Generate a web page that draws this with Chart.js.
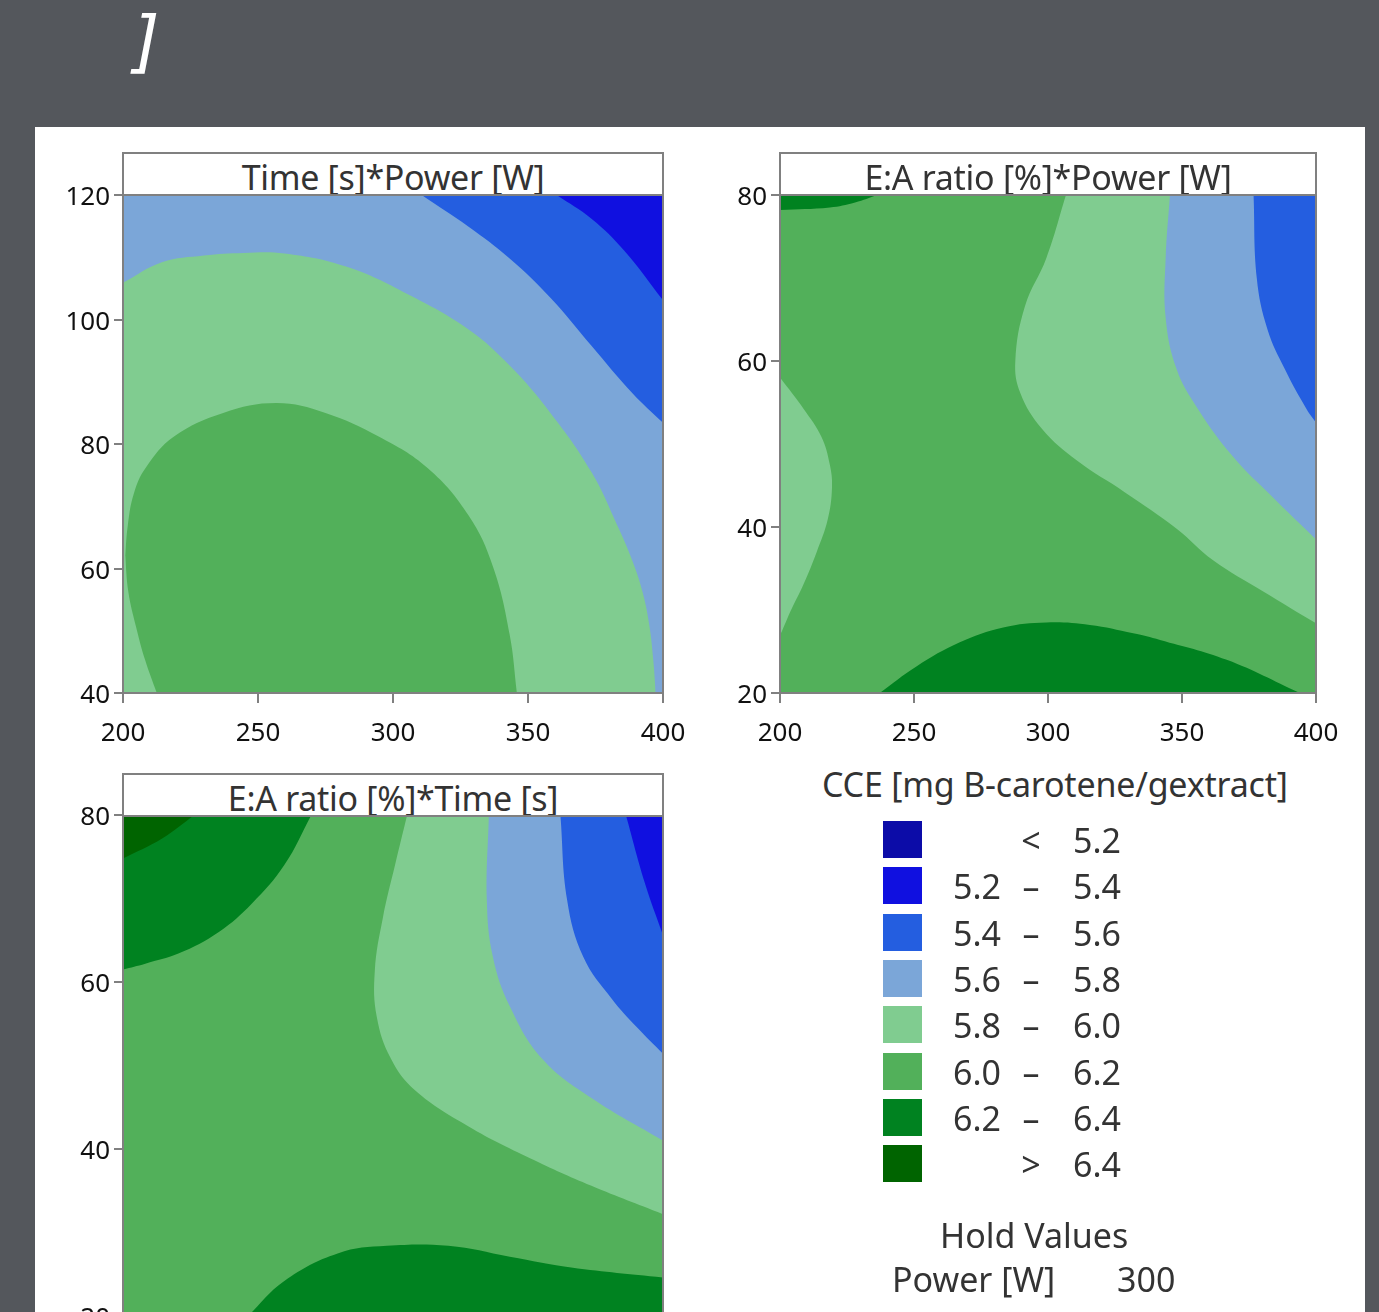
<!DOCTYPE html>
<html>
<head>
<meta charset="utf-8">
<title>CCE contour profiler</title>
<script src="https://cdn.jsdelivr.net/npm/chart.js@4.4.1/dist/chart.umd.min.js"></script>
<style>
  html, body { margin: 0; padding: 0; }
  body {
    width: 1379px; height: 1312px; position: relative; overflow: hidden;
    background: #54575c; font-family: "Noto Sans", "Open Sans", sans-serif;
  }
  #bracket { position: absolute; left: 133px; top: 2px; color: #fff; font: italic 68px "DejaVu Sans", sans-serif; }
  #sheet { position: absolute; left: 35px; top: 127px; width: 1330px; height: 1200px; background: #fff; }
  .ttl {
    position: absolute; box-sizing: border-box; height: 44px; border: 2px solid #808080;
    background: #fff; color: #333; font-size: 34px; line-height: 46px; text-align: center;
    white-space: nowrap; overflow: hidden; letter-spacing: -0.3px;
  }
  canvas { position: absolute; }
  #legTitle { position: absolute; left: 822px; top: 761px; font-size: 34px; color: #333; white-space: nowrap; letter-spacing: -0.2px; }
  .row { position: absolute; left: 0; height: 38px; width: 1379px; }
  .sw { position: absolute; left: 883px; top: 0; width: 39px; height: 37px; box-sizing: border-box; }
  .lo, .sep, .hi { position: absolute; top: -5px; font-size: 34px; color: #333; line-height: 48px; }
  .lo { right: 378px; text-align: right; }
  .sep { left: 1016px; width: 30px; text-align: center; }
  .hi { left: 1073px; }
  .hold { position: absolute; font-size: 34px; color: #333; white-space: nowrap; }
</style>
</head>
<body>
<div id="bracket">]</div>
<div id="sheet"></div>

<canvas id="c1" width="650" height="578" style="left:53px; top:175px;"></canvas>
<canvas id="c2" width="646" height="578" style="left:710px; top:175px;"></canvas>
<canvas id="c3" width="650" height="581" style="left:53px; top:795px;"></canvas>

<div class="ttl" style="left:122px; top:152px; width:542px;">Time [s]*Power [W]</div>
<div class="ttl" style="left:779px; top:152px; width:538px;">E:A ratio [%]*Power [W]</div>
<div class="ttl" style="left:122px; top:773px; width:542px;">E:A ratio [%]*Time [s]</div>

<div id="legTitle">CCE [mg B-carotene/gextract]</div>
<div id="legend"></div>
<div class="hold" style="left:940px; top:1212px;">Hold Values</div>
<div class="hold" style="left:892px; top:1256px;">Power [W]</div>
<div class="hold" style="left:1117px; top:1256px;">300</div>

<script>
// ---- axes ----
const powerTicks = [200, 250, 300, 350, 400];
const timeTicks = [40, 60, 80, 100, 120];
const ratioTicks = [20, 40, 60, 80];

// ---- response bands: <5.2, 5.2-5.4, ... , >6.4 ----
const levels = [5.2, 5.4, 5.6, 5.8, 6.0, 6.2, 6.4];
const bandColors = ['#0c0ca8', '#1010e0', '#245ee0', '#7ba6d8', '#80cc90', '#52b05a', '#008220', '#006400'];

// ---- Time*Power contours, [power, time] ----
const tp58 = [[200, 105.9], [214.4, 109.2], [230, 110.3], [244.7, 110.7], [259.8, 110.6], [282.6, 108.5],
  [305.3, 104.1], [328, 98.4], [343.2, 92.6], [358.3, 85], [373.5, 75.5], [383, 67], [388.5, 61.4],
  [392.5, 56.1], [395, 50.7], [396.4, 45.3], [397.3, 40]];
const tp60Top = [[200.8, 62], [201.8, 67], [204, 72], [208.3, 76.1], [218.9, 81.2], [237.1, 85], [256.8, 86.6],
  [275, 85], [294.7, 81.2], [312.9, 76.1], [328, 68.5], [337.1, 60.2], [343.2, 49.4], [345.9, 40]];
const tp60Low = [[212.5, 40], [208.2, 45.3], [204.8, 50.7], [202, 56.2], [200.8, 62]];
const tp56 = [[310.6, 120], [328, 114.9], [343.2, 109.8], [358.3, 103.5], [373.5, 95.8], [388.6, 88.2], [400, 83.4]];
const tp54 = [[360.6, 120], [373.5, 116.2], [385.6, 111.1], [400, 103.1]];

// ---- E:A ratio*Power contours, [power, ratio] ----
const rp62Top = [[200, 78.2], [218.6, 78.5], [228, 79.1], [236.4, 80]];
const rp60Left = [[200, 27], [200.8, 27.5], [204, 29.9], [208.9, 33.2], [213.7, 37], [217.8, 40.9], [219.4, 44.7],
  [218.6, 47.5], [215.4, 50.9], [208.9, 54.2], [200, 58]];
const rp60Right = [[400, 28.4], [380, 32.3], [361.6, 36], [348, 39.8], [328.6, 44.2], [310.8, 48], [297.8, 51.8],
  [289.7, 56.1], [287.8, 60], [291.4, 66.6], [299.4, 72.4], [306.7, 80]];
const rp58 = [[400, 38.5], [383.5, 43.7], [369, 48.5], [356, 54.2], [348, 59], [343.9, 65.2], [343.9, 72.4], [345.5, 80]];
const rp56 = [[400, 52.6], [396.5, 54.2], [388.4, 59], [381.9, 63.8], [377.9, 70], [376.7, 80]];
const rp62Low = [[237.2, 20], [250.9, 23.2], [267.1, 26.1], [283.3, 27.9], [299.4, 28.5], [315.6, 28.2],
  [331.8, 27.2], [341.8, 26.4], [366.7, 24], [394, 20]];

// ---- E:A ratio*Time contours, [time, ratio] ----
const rt62Top = [[40, 61.5], [43.3, 62.2], [48.2, 63.4], [54.2, 66], [59.1, 69.4], [63.9, 74], [67.9, 80]];
const rt64Top = [[40, 74.8], [45.8, 77.2], [50.6, 80]];
const rt60 = [[120, 32.2], [109.4, 35.6], [100.3, 38.9], [91.2, 42.7], [83.3, 47], [79.7, 50.8], [77.6, 55.8],
  [77.3, 61.3], [78.5, 67.7], [80.3, 74], [82.1, 80]];
const rt58 = [[120, 41], [109.4, 46.1], [102.1, 50.8], [97.3, 57.1], [94.8, 63], [93.9, 69.8], [94.2, 80]];
const rt56 = [[120, 51.4], [116.1, 54.6], [112.4, 58], [108.2, 63], [105.8, 69.8], [104.8, 80]];
const rt54 = [[120, 65.6], [117.3, 71.9], [114.5, 80]];
const rt62Low = [[58.5, 20], [63.9, 24.2], [71.8, 27.5], [79.1, 28.4], [88.2, 28.4], [97.3, 27.1], [106.4, 25.8], [120, 24.6]];

const FONT = '"Noto Sans", "Open Sans", sans-serif';

// paints the lowest band under the contours and the grey frame over them
const framePlugin = {
  id: 'frame',
  beforeDatasetsDraw(chart, args, opts) {
    const { ctx, chartArea: a } = chart;
    ctx.save();
    ctx.fillStyle = opts.base;
    ctx.fillRect(a.left, a.top, a.width, a.height);
    ctx.restore();
  },
  afterDatasetsDraw(chart) {
    const { ctx, chartArea: a } = chart;
    ctx.save();
    ctx.strokeStyle = '#808080';
    ctx.lineWidth = 2;
    ctx.strokeRect(a.left, a.top, a.width, a.height);
    ctx.restore();
  }
};

const axis = (ticks, isX) => ({
  type: 'linear',
  min: ticks[0], max: ticks[ticks.length - 1],
  afterBuildTicks: s => { s.ticks = ticks.map(v => ({ value: v })); },
  afterFit: s => { if (isX) s.height = 60; else s.width = 70; },
  ticks: {
    color: '#111', font: { family: FONT, size: 26 }, padding: isX ? 15 : 4,
    labelOffset: isX ? 0 : 3, maxRotation: 0, autoSkip: false
  },
  grid: { drawOnChartArea: false, color: '#808080', lineWidth: 2, tickLength: isX ? 10 : 9 },
  border: { display: false }
});

// one filled band: area between a contour and a plot edge
function band(pts, idx, to, alongY) {
  const c = bandColors[idx];
  return {
    data: pts.map(([x, y]) => ({ x, y })),
    indexAxis: alongY ? 'y' : 'x',
    fill: { value: to },
    backgroundColor: c, borderColor: c, borderWidth: 0,
    pointRadius: 0, tension: 0.4
  };
}

function contourPanel(id, xTicks, yTicks, base, layers) {
  const datasets = layers.map((l, i) => Object.assign(band(...l), { order: layers.length - i }));
  new Chart(document.getElementById(id), {
    type: 'line',
    data: { datasets },
    options: {
      responsive: false, animation: false, events: [],
      layout: { padding: { top: 20, right: 40, left: 0, bottom: 0 } },
      scales: { x: axis(xTicks, true), y: axis(yTicks, false) },
      plugins: { legend: { display: false }, tooltip: { enabled: false }, frame: { base: bandColors[base] } }
    },
    plugins: [framePlugin]
  });
}

contourPanel('c1', powerTicks, timeTicks, 3, [
  [tp58, 4, 40],
  [tp60Top, 5, 40],
  [tp60Low, 4, 200, true],
  [tp56, 2, 120],
  [tp54, 1, 120]
]);

contourPanel('c2', powerTicks, ratioTicks, 5, [
  [rp62Top, 6, 80],
  [rp60Left, 4, 200, true],
  [rp60Right, 4, 400, true],
  [rp58, 3, 400, true],
  [rp56, 2, 400, true],
  [rp62Low, 6, 20]
]);

contourPanel('c3', timeTicks, ratioTicks, 5, [
  [rt62Top, 6, 80],
  [rt64Top, 7, 80],
  [rt60, 4, 120, true],
  [rt58, 3, 120, true],
  [rt56, 2, 120, true],
  [rt54, 1, 120, true],
  [rt62Low, 6, 20]
]);

// ---- legend ----
const legend = document.getElementById('legend');
bandColors.forEach((c, i) => {
  let lo = '', sep = '–', hi;
  if (i === 0) { sep = '<'; hi = levels[0]; }
  else if (i === bandColors.length - 1) { sep = '>'; hi = levels[levels.length - 1]; }
  else { lo = levels[i - 1].toFixed(1); hi = levels[i]; }
  const row = document.createElement('div');
  row.className = 'row';
  row.style.top = (821 + i * 46.3) + 'px';
  row.innerHTML = `<div class="sw" style="background:${c}"></div>` +
    `<span class="lo">${lo}</span><span class="sep">${sep}</span><span class="hi">${hi.toFixed(1)}</span>`;
  legend.appendChild(row);
});
</script>
</body>
</html>
